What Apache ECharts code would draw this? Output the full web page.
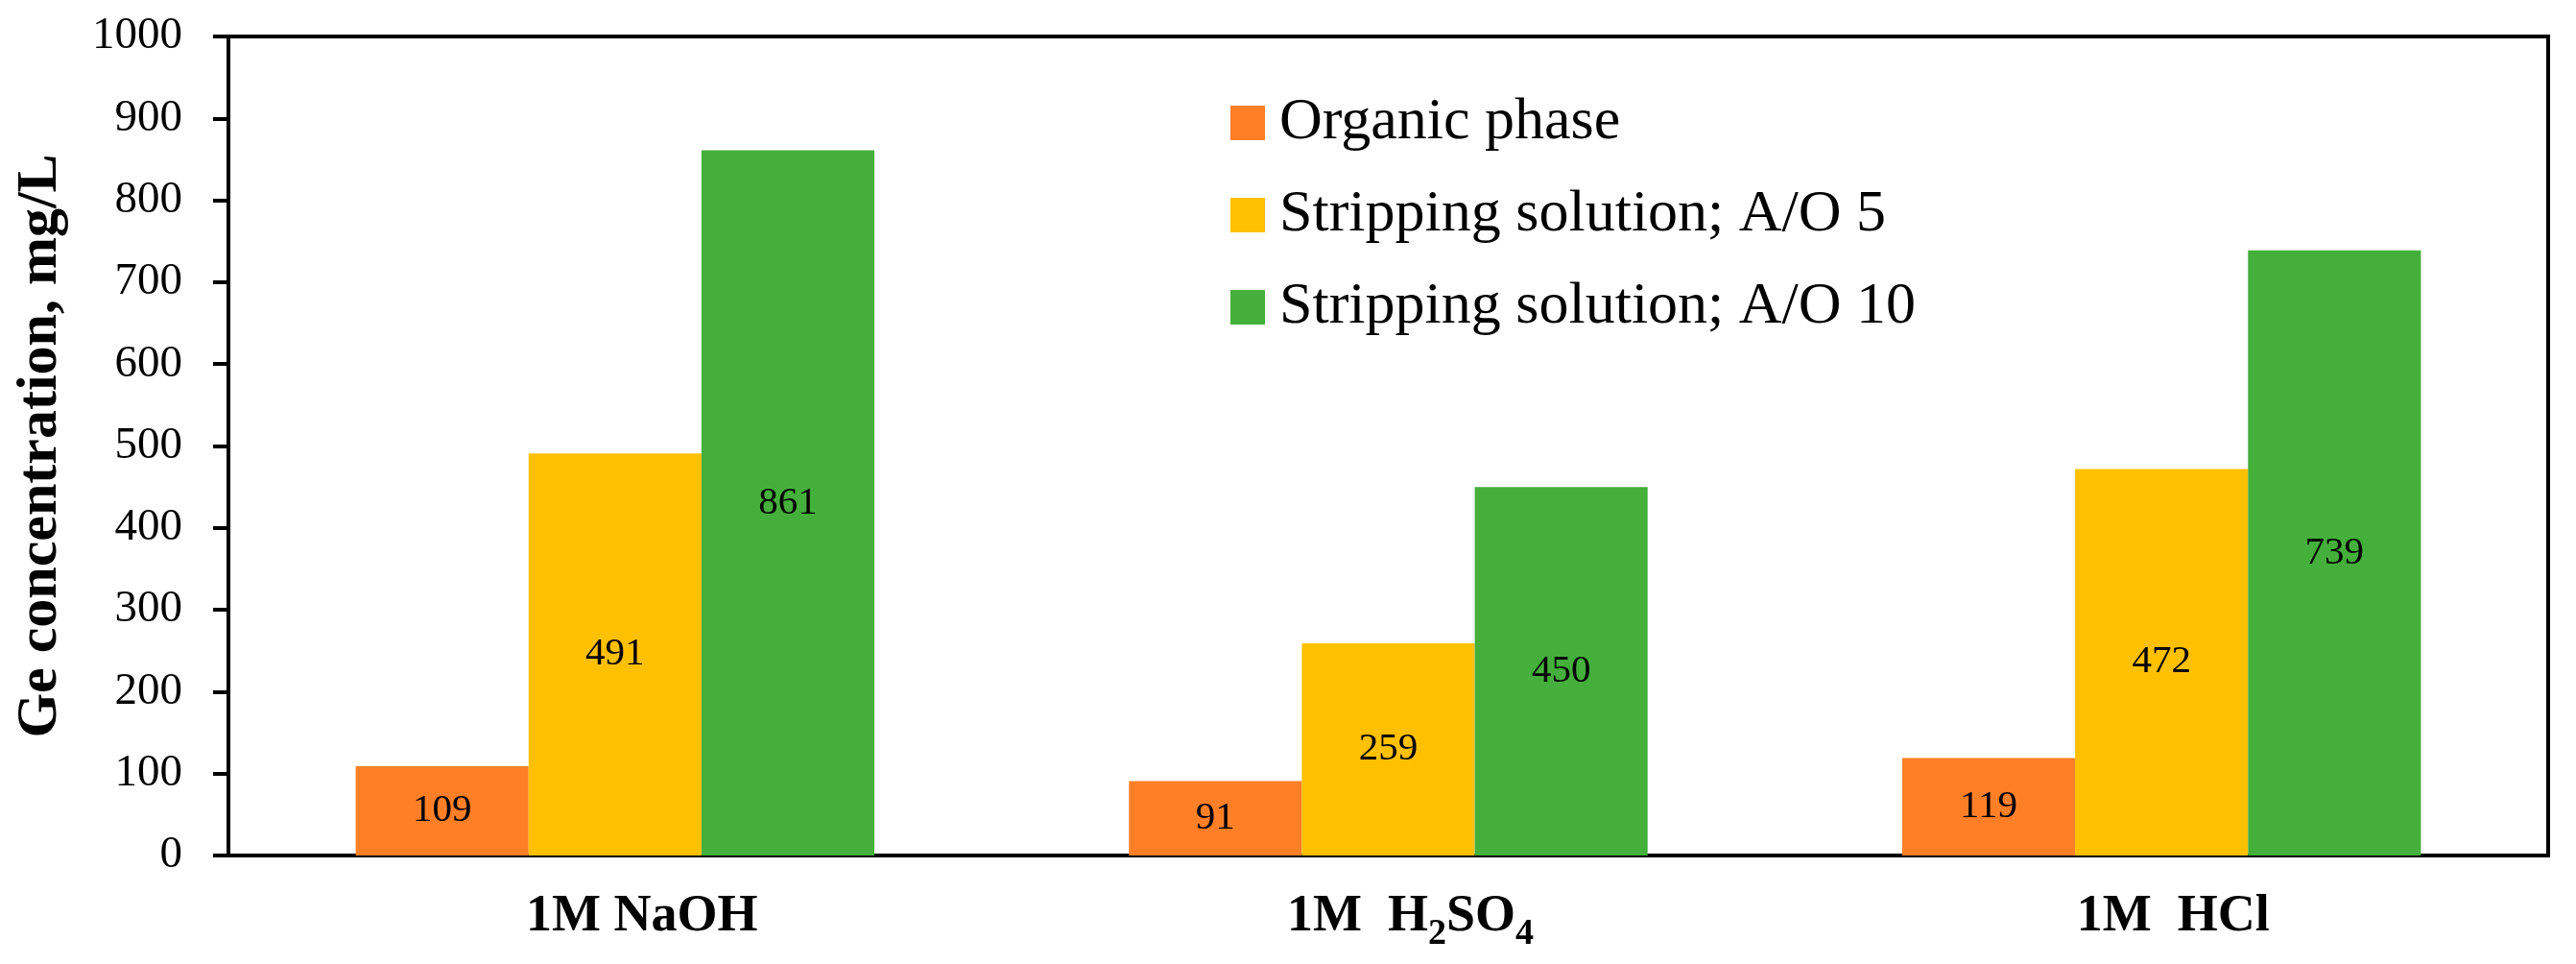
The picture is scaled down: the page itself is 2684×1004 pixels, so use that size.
<!DOCTYPE html>
<html>
<head>
<meta charset="utf-8">
<title>Ge concentration</title>
<script src="https://cdn.jsdelivr.net/npm/echarts@6/dist/echarts.min.js"></script>
<style>
  html, body { margin: 0; padding: 0; background: #fff; }
  #chart { width: 2684px; height: 1004px; }
</style>
</head>
<body>
<div id="chart"></div>
<script>
// data
var categories = ["1M NaOH", "1M  H2SO4", "1M  HCl"];
var organicPhase = [109, 91, 119];
var strippingAO5 = [491, 259, 472];
var strippingAO10 = [861, 450, 739];
var seriesNames = ["Organic phase", "Stripping solution; A/O 5", "Stripping solution; A/O 10"];
var seriesColors = ["#FF7F27", "#FFC000", "#45AF3C"];
var yTicks = { min: 0, max: 1000, step: 100 };

var font = "Liberation Serif";

// the category labels sit a little right of the group centre in the original
var labelShift = [56, 46, 24];

// x labels as rich text so H2SO4 gets its subscripts
function catLabel(v, i) {
  var pad = "{p|}";
  var rich = "idx" + i;
  if (v.indexOf("H2SO4") >= 0) {
    return "{" + rich + "|}{b|1M  H}{s|2}{b|SO}{s|4}";
  }
  return "{" + rich + "|}{b|" + v + "}";
}

var chart = echarts.init(document.getElementById("chart"));

function barSeries(name, data, color) {
  return {
    name: name,
    type: "bar",
    data: data,
    barWidth: "22.36%",
    barGap: "0%",
    itemStyle: { color: color },
    label: {
      show: true,
      position: "inside",
      color: "#000",
      fontFamily: font,
      fontSize: 41
    }
  };
}

var xRich = {
  b: {
    fontFamily: font,
    fontWeight: "bold",
    fontSize: 54,
    lineHeight: 54,
    verticalAlign: "top",
    color: "#000"
  },
  s: {
    fontFamily: font,
    fontWeight: "bold",
    fontSize: 38,
    lineHeight: 38,
    verticalAlign: "top",
    padding: [26, 0, 0, 0],
    color: "#000"
  }
};
labelShift.forEach(function (w, i) {
  xRich["idx" + i] = { width: w, height: 10, verticalAlign: "top" };
});

chart.setOption({
  backgroundColor: "#fff",
  animation: false,
  textStyle: { fontFamily: font },
  grid: {
    left: 238,
    right: 29,
    top: 38,
    bottom: 113,
    show: true,
    borderColor: "#000",
    borderWidth: 4
  },
  legend: {
    orient: "vertical",
    left: 1277,
    top: 92,
    itemWidth: 36,
    itemHeight: 36,
    itemGap: 34,
    icon: "rect",
    data: seriesNames,
    textStyle: {
      fontFamily: font,
      fontSize: 62,
      lineHeight: 62,
      color: "#000",
      padding: [0, 0, 0, 10]
    }
  },
  xAxis: {
    type: "category",
    data: categories,
    axisTick: { show: false },
    axisLine: { lineStyle: { color: "#000", width: 4 } },
    axisLabel: {
      margin: 37,
      formatter: catLabel,
      rich: xRich
    }
  },
  yAxis: {
    type: "value",
    min: yTicks.min,
    max: yTicks.max,
    interval: yTicks.step,
    name: "Ge concentration, mg/L",
    nameLocation: "middle",
    nameGap: 166,
    nameTextStyle: {
      fontFamily: font,
      fontWeight: "bold",
      fontSize: 60,
      color: "#000"
    },
    splitLine: { show: false },
    axisLine: { show: true, lineStyle: { color: "#000", width: 4 } },
    axisTick: { show: true, length: 16, lineStyle: { color: "#000", width: 4 } },
    axisLabel: {
      margin: 48,
      fontFamily: font,
      fontSize: 47,
      color: "#000",
      formatter: function (v) { return String(v); }
    }
  },
  series: [
    barSeries(seriesNames[0], organicPhase, seriesColors[0]),
    barSeries(seriesNames[1], strippingAO5, seriesColors[1]),
    barSeries(seriesNames[2], strippingAO10, seriesColors[2])
  ]
});
</script>
</body>
</html>
